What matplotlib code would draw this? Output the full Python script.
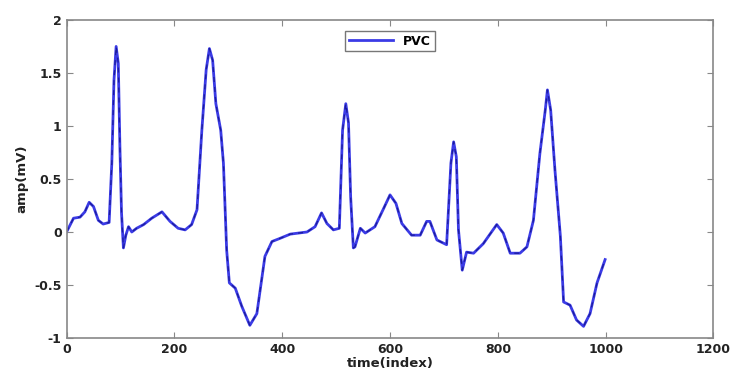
import matplotlib
matplotlib.use('Agg')
import matplotlib.pyplot as plt

# ECG trace (PVC beat)
t = [0, 13, 25, 34, 42, 50, 59, 68, 79, 84, 88, 92, 96, 99, 102, 105.5, 110, 115, 121,
     130, 143, 158, 177, 192, 207, 220, 232, 242, 251, 259, 265, 271, 277, 286, 291, 297,
     302, 313, 325, 340, 353, 368, 381, 396, 415, 446, 461, 473, 483, 495, 506, 512, 518,
     523, 527, 532, 535, 545, 554, 572, 588, 600, 611, 622, 640, 656, 668, 674, 687, 705,
     713, 718, 723, 727, 734, 742, 755, 773, 798, 810, 823, 841, 854, 866, 878, 888, 892,
     898, 906, 916, 922, 934, 946, 959, 971, 984, 999]
amp = [0.0, 0.13, 0.14, 0.19, 0.28, 0.24, 0.11, 0.075, 0.09, 0.65, 1.43, 1.75, 1.59, 0.80,
       0.18, -0.15, -0.03, 0.05, 0.0, 0.035, 0.07, 0.13, 0.19, 0.10, 0.035, 0.02, 0.07,
       0.21, 0.96, 1.53, 1.73, 1.62, 1.21, 0.96, 0.65, -0.17, -0.48, -0.53, -0.70, -0.88,
       -0.77, -0.23, -0.09, -0.06, -0.02, 0.0, 0.05, 0.18, 0.08, 0.02, 0.035, 0.96, 1.21,
       1.03, 0.33, -0.15, -0.14, 0.035, -0.01, 0.05, 0.22, 0.35, 0.27, 0.08, -0.03, -0.03,
       0.10, 0.10, -0.075, -0.12, 0.65, 0.85, 0.71, 0.02, -0.36, -0.19, -0.20, -0.11, 0.07,
       -0.01, -0.20, -0.20, -0.14, 0.11, 0.74, 1.15, 1.34, 1.15, 0.58, -0.04, -0.66, -0.69,
       -0.83, -0.89, -0.77, -0.48, -0.26]

fig = plt.figure(figsize=(7.36, 3.76), dpi=100)
ax = fig.add_axes([0.0904, 0.101, 0.879, 0.846])

ax.plot(t, amp, color='#3b3be6', lw=2.0, label='PVC', solid_joinstyle='round')
ax.plot(t, amp, color='#1c1c9c', lw=0.9, ls=(0, (4, 4)))

ax.set_xlim(0, 1200)
ax.set_ylim(-1, 2)
ax.set_xticks(range(0, 1201, 200))
ax.set_yticks([-1, -0.5, 0, 0.5, 1, 1.5, 2])
ax.set_yticklabels(['-1', '-0.5', '0', '0.5', '1', '1.5', '2'])
ax.tick_params(direction='in', top=True, right=True, length=4, color='#888888',
               labelsize=9, labelcolor='#222222')
for lab in ax.get_xticklabels() + ax.get_yticklabels():
    lab.set_fontweight('bold')
for s in ax.spines.values():
    s.set_color('#888888')
    s.set_linewidth(1.2)

ax.set_xlabel('time(index)', fontsize=9.5, fontweight='bold', color='#222222', labelpad=1)
ax.set_ylabel('amp(mV)', fontsize=9.5, fontweight='bold', color='#222222', labelpad=4)

leg = ax.legend(loc='upper center', bbox_to_anchor=(0.5, 0.985), fancybox=False,
                prop={'weight': 'bold', 'size': 9}, handlelength=3.5, borderpad=0.3)
leg.get_frame().set_edgecolor('#555555')
leg.get_frame().set_linewidth(1.0)

fig.savefig('out.png', dpi=100)
